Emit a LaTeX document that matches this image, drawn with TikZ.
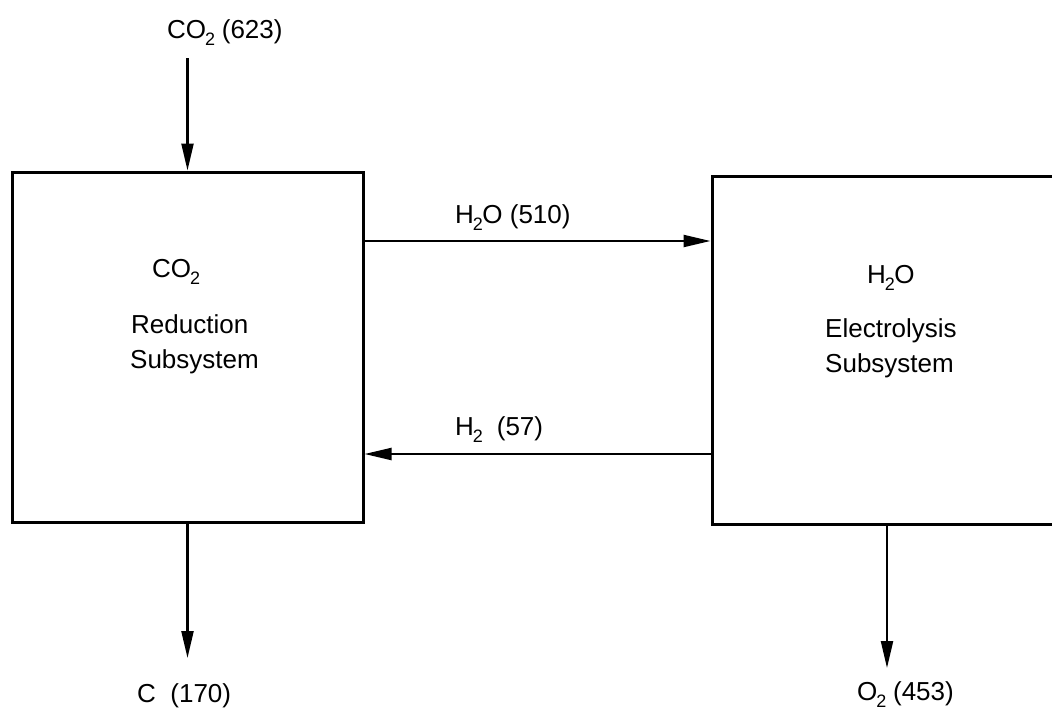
\documentclass[tikz,border=0pt]{standalone}
\usepackage{fontspec}
\setmainfont{Liberation Sans}
\usetikzlibrary{arrows.meta}
\newcommand{\subtwo}{\kern-0.04em\raisebox{-0.3em}{\fontsize{18}{18}\selectfont 2}\kern-0.02em}
\tikzset{
  box/.style={draw, line width=3pt, rectangle, inner sep=0pt},
  flow/.style={draw, line width=2.2pt, -{Triangle[length=27pt,width=12pt]}},
  lbl/.style={anchor=base west, inner sep=0pt, font=\fontsize{26}{31}\selectfont}
}
\begin{document}
\begin{tikzpicture}[x=1pt,y=-1pt]
\useasboundingbox (0,0) rectangle (1052,710);
% boxes
\node[box, minimum width=351pt, minimum height=350pt] (red) at (187.5,347) {};
\node[box, minimum width=350pt, minimum height=348pt] (ele) at (887,350) {};
% texts inside boxes
\node[lbl] (redt1) at (152,277) {CO\subtwo};
\node[lbl] (redt2) at (131,333) {Reduction};
\node[lbl] (redt3) at (130,368) {Subsystem};
\node[lbl] (elet1) at (867,283) {H\subtwo O};
\node[lbl] (elet2) at (825,337) {Electrolysis};
\node[lbl] (elet3) at (825,372) {Subsystem};
% flow labels
\node[lbl] (inco2) at (167,38) {CO\subtwo\ (623)};
\node[lbl] (h2o) at (455,223) {H\subtwo O (510)};
\node[lbl] (h2) at (455,435) {H\subtwo\ \ (57)};
\node[lbl] (outc) at (137,702) {C\ \ (170)};
\node[lbl] (outo2) at (857,700) {O\subtwo\ (453)};
% connector end points
\coordinate (inTop) at (187.5,58);
\coordinate (cEnd) at (187.5,658);
\coordinate (o2End) at (887,668);
\coordinate (yH2O) at (0,241);
\coordinate (yH2) at (0,454);
% connectors
\draw[flow] (inTop) -- (red.north);
\draw[flow] (red.east |- yH2O) -- (ele.west |- yH2O);
\draw[flow] (ele.west |- yH2) -- (red.east |- yH2);
\draw[flow] (red.south) -- (cEnd);
\draw[flow] (ele.south) -- (o2End);
\end{tikzpicture}
\end{document}
